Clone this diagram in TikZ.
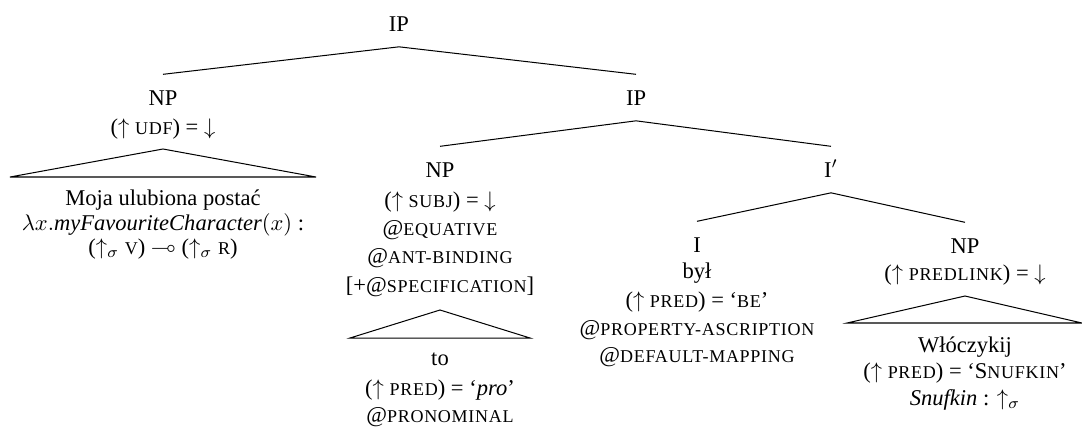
\documentclass[tikz,border=0pt]{standalone}
\usepackage{amssymb}
\usepackage{fontspec}
\setmainfont{Liberation Serif}
\newfontfamily\scfam[LetterSpace=4]{Liberation Serif}
% small capitals, set as reduced letter-spaced capitals
\newcommand\fsc[1]{{\scfam\fontsize{8pt}{9.6pt}\selectfont #1}}

\begin{document}
\begin{tikzpicture}[x=0.444pt,y=-0.444pt,line width=0.45pt,
  cat/.style={anchor=base,inner xsep=0pt,inner ysep=6.8pt,text height=6.6pt,text depth=0pt},
  ln/.style={anchor=base,inner sep=0pt},
  roof/.style={line join=miter}]
\useasboundingbox (0,0) rectangle (1082,427);

% root
\node[cat] (ip) at (399,31) {IP};

% fronted NP
\node[cat] (np1) at (163,105) {NP};
\node[ln] (np1f) at (163,134) {($\uparrow$ \fsc{UDF}) = $\downarrow$};
\coordinate (r1a) at (163,149);
\coordinate (r1l) at (10,177);
\coordinate (r1r) at (316,177);
\draw[roof] (r1a) -- (r1l) -- (r1r) -- cycle;
\node[ln] (w1) at (163,205) {Moja ulubiona postać};
\node[ln] (w1m) at (163,230) {$\lambda x.$\textit{myFavouriteCharacter}$(x)$ :};
\node[ln] (w1g) at (163,254) {($\uparrow_\sigma$ \fsc{V}) $\multimap$ ($\uparrow_\sigma$ \fsc{R})};

% lower IP
\node[cat] (ip2) at (636,105) {IP};

% subject NP
\node[cat] (np2) at (440,177) {NP};
\node[ln] (np2a) at (440,207) {($\uparrow$ \fsc{SUBJ}) = $\downarrow$};
\node[ln] (np2b) at (440,235) {@\fsc{EQUATIVE}};
\node[ln] (np2c) at (440,263) {@\fsc{ANT-BINDING}};
\node[ln] (np2d) at (440,292) {[+@\fsc{SPECIFICATION}]};
\coordinate (r2a) at (440,310);
\coordinate (r2l) at (350,338);
\coordinate (r2r) at (530,338);
\draw[roof] (r2a) -- (r2l) -- (r2r) -- cycle;
\node[ln] (w2) at (440,365) {to};
\node[ln] (w2a) at (440,395) {($\uparrow$ \fsc{PRED}) = `\textit{pro}'};
\node[ln] (w2b) at (440,422) {@\fsc{PRONOMINAL}};

% I-bar
\node[cat] (ib) at (831,177) {I$'$};

% I
\node[cat] (i) at (697,252) {I};
\node[ln] (ia) at (697,278) {był};
\node[ln] (ib1) at (697,307) {($\uparrow$ \fsc{PRED}) = `\fsc{BE}'};
\node[ln] (ib2) at (697,335) {@\fsc{PROPERTY-ASCRIPTION}};
\node[ln] (ib3) at (697,362) {@\fsc{DEFAULT-MAPPING}};

% predicative NP
\node[cat] (np3) at (965,253) {NP};
\node[ln] (np3a) at (965,280) {($\uparrow$ \fsc{PREDLINK}) = $\downarrow$};
\coordinate (r3a) at (965,296);
\coordinate (r3l) at (847,323);
\coordinate (r3r) at (1082,323);
\draw[roof] (r3a) -- (r3l) -- (r3r) -- cycle;
\node[ln] (w3) at (965,352) {Włóczykij};
\node[ln] (w3a) at (965,378) {($\uparrow$ \fsc{PRED}) = `S\fsc{NUFKIN}'};
\node[ln] (w3b) at (965,405) {\textit{Snufkin} : $\uparrow_\sigma$};

% branches
\draw (ip.south) -- (np1.north);
\draw (ip.south) -- (ip2.north);
\draw (ip2.south) -- (np2.north);
\draw (ip2.south) -- (ib.north);
\draw (ib.south) -- (i.north);
\draw (ib.south) -- (np3.north);
\end{tikzpicture}
\end{document}
